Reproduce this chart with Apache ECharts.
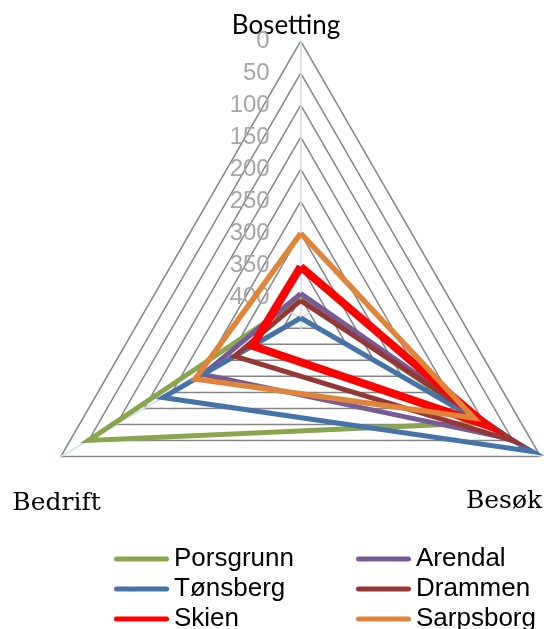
<!DOCTYPE html>
<html>
<head>
<meta charset="utf-8">
<script src="https://cdn.jsdelivr.net/npm/echarts@6/dist/echarts.min.js"></script>
<style>
  html, body { margin: 0; padding: 0; background: #fff; }
  #chart { width: 544px; height: 629px; }
</style>
</head>
<body>
<div id="chart"></div>
<script>
// ---- data (ranks; 0 = outer edge, axis runs towards the centre) ----
const categories = ['Bosetting', 'Bedrift', 'Besøk'];
const seriesNames = ['Porsgrunn', 'Arendal', 'Tønsberg', 'Drammen', 'Skien', 'Sarpsborg'];
// values in order [Bosetting, Bedrift, Besøk]
const porsgrunn = [402, 50, 105];
const arendal   = [394, 256, 55];
const tonsberg  = [432, 184, 16];
const drammen   = [405, 313, 48];
const skien     = [352, 345, 98];
const sarpsborg = [300, 242, 120];
const tickLabels = ['0', '50', '100', '150', '200', '250', '300', '350', '400'];
const axisMin = 0;
const axisMax = 450;
const axisInterval = 50;
const axisCentreValue = 432;

const seriesValues = [porsgrunn, arendal, tonsberg, drammen, skien, sarpsborg];
const seriesColors = ['#89A54E', '#775B96', '#4572A7', '#953735', '#FF0000', '#E0843A'];
const seriesWidths = [5, 5, 5, 5, 8, 5.5];

const outerRadius = 277;
const splitCount = (axisMax - axisMin) / axisInterval;
const innerRadius = outerRadius * (1 - (axisMax - axisMin) / (axisCentreValue - axisMin));

const chart = echarts.init(document.getElementById('chart'));

const splitColors = [];
for (let i = 0; i <= splitCount; i++) {
  splitColors.push(i < tickLabels.length ? '#868686' : 'rgba(0,0,0,0)');
}

const indicator = categories.map(function (name, i) {
  const ind = { name: name, min: axisMin, max: axisMax };
  if (i === 0) {
    ind.axisLabel = {
      show: true,
      color: '#A6A6A6',
      fontFamily: 'Liberation Sans, Arial, sans-serif',
      fontSize: 24,
      margin: 31,
      padding: [6, 0, 0, 0],
      formatter: function (v) {
        const idx = Math.round((v - axisMin) / axisInterval);
        return idx < tickLabels.length ? tickLabels[idx] : '';
      }
    };
  }
  return ind;
});

const legendIcon = 'path://M2.5,0H52.5A2.5,2.5,0,0,1,52.5,5H2.5A2.5,2.5,0,0,1,2.5,0Z';
const legendCommon = {
  orient: 'vertical',
  top: 546,
  padding: 0,
  height: 120,
  itemWidth: 55,
  itemHeight: 5,
  itemGap: 4,
  icon: legendIcon,
  selectedMode: false,
  textStyle: {
    fontFamily: 'Liberation Sans, Arial, sans-serif',
    fontSize: 26,
    lineHeight: 26,
    color: '#000'
  }
};

const option = {
  backgroundColor: '#ffffff',
  animation: false,
  legend: [
    Object.assign({}, legendCommon, { left: 114, data: [seriesNames[0], seriesNames[2], seriesNames[4]] }),
    Object.assign({}, legendCommon, { left: 356, data: [seriesNames[1], seriesNames[3], seriesNames[5]] })
  ],
  radar: {
    center: [300.7, 318],
    radius: [outerRadius, innerRadius],
    startAngle: 90,
    shape: 'polygon',
    splitNumber: splitCount,
    indicator: indicator,
    axisName: { show: false },
    axisLine: { show: true, lineStyle: { color: '#D3DEEE', width: 1.5 } },
    axisTick: { show: false },
    axisLabel: { show: false },
    splitLine: { show: true, lineStyle: { color: splitColors, width: 1.5 } },
    splitArea: { show: false }
  },
  graphic: [
    { type: 'text', x: 286, y: 26, silent: true,
      style: { text: categories[0], fill: '#000', font: '26px Lato, Calibri, sans-serif', align: 'center', verticalAlign: 'middle' } },
    { type: 'text', x: 56.5, y: 503, silent: true,
      style: { text: categories[1], fill: '#000', font: '25px "DejaVu Serif", serif', align: 'center', verticalAlign: 'middle' } },
    { type: 'text', x: 504, y: 501, silent: true,
      style: { text: categories[2], fill: '#000', font: '25px "DejaVu Serif", serif', align: 'center', verticalAlign: 'middle' } }
  ],
  series: seriesNames.map(function (name, i) {
    return {
      type: 'radar',
      name: name,
      symbol: 'none',
      silent: true,
      color: seriesColors[i],
      itemStyle: { color: seriesColors[i] },
      lineStyle: { color: seriesColors[i], width: seriesWidths[i], join: 'miter' },
      data: [{ value: seriesValues[i], name: name }]
    };
  })
};

chart.setOption(option);
</script>
</body>
</html>
